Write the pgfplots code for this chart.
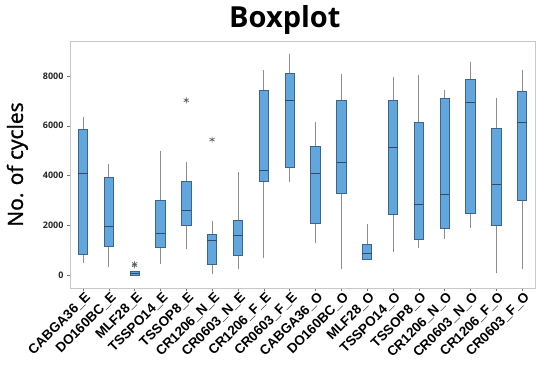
\documentclass[border=0pt]{standalone}
\usepackage{fontspec}
\setmainfont{Open Sans}
\newfontfamily\arialf{Liberation Sans}
\newfontfamily\ylf[FakeBold=1.2]{Open Sans}
\usepackage{pgfplots}
\pgfplotsset{compat=1.18}
\usetikzlibrary{calc}
\definecolor{boxblue}{RGB}{98,166,222}
\definecolor{boxedge}{RGB}{62,100,140}
\definecolor{medline}{RGB}{50,75,100}
\definecolor{whisk}{RGB}{140,140,140}
\definecolor{framec}{RGB}{200,200,200}
% #1 position, #2 left, #3 right, #4 lower whisker, #5 Q1, #6 median, #7 Q3, #8 upper whisker
\newcommand{\bx}[8]{%
  \addplot[whisk, line width=0.8pt] coordinates {(#1,#4) (#1,#8)};
  \addplot[fill=boxblue, draw=boxedge, line width=0.6pt] coordinates {(#2,#5) (#3,#5) (#3,#7) (#2,#7)} -- cycle;
  \addplot[medline, line width=0.9pt] coordinates {(#2,#6) (#3,#6)};
}
\begin{document}
\begin{tikzpicture}
\begin{axis}[
  name=ax,
  scale only axis,
  width=465pt, height=247pt,
  xmin=-0.5, xmax=17.5,
  ymin=-520, ymax=9400,
  axis line style={framec},
  tick align=outside,
  xtick pos=bottom, ytick pos=left,
  major tick length=3pt,
  tick style={black!55},
  xtick={0,...,17},
  xticklabels={CABGA36\_E,DO160BC\_E,MLF28\_E,TSSPO14\_E,TSSOP8\_E,CR1206\_N\_E,CR0603\_N\_E,CR1206\_F\_E,CR0603\_F\_E,CABGA36\_O,DO160BC\_O,MLF28\_O,TSSPO14\_O,TSSOP8\_O,CR1206\_N\_O,CR0603\_N\_O,CR1206\_F\_O,CR0603\_F\_O},
  xticklabel style={rotate=45, anchor=north east, font=\arialf\bfseries\fontsize{13.5}{15}\selectfont, inner sep=1pt, xshift=2pt},
  ytick={0,2000,4000,6000,8000},
  yticklabel style={font=\fontsize{9}{10}\selectfont\bfseries, black!85},
  /pgf/number format/1000 sep={},
  /pgf/number format/assume math mode=true,
  ylabel={No. of cycles},
  ylabel style={at={(axis description cs:-0.090,0.5)}, anchor=south, inner sep=0pt, font=\ylf\fontsize{21}{24}\selectfont},
  title={Boxplot},
  title style={at={(axis description cs:0.462,1)}, anchor=base, yshift=7pt, inner sep=0pt, font=\bfseries\fontsize{29}{34}\selectfont},
]
\bx{0}{-0.18}{0.18}{500}{840}{4090}{5870}{6330}
\bx{1}{0.82}{1.18}{310}{1150}{1970}{3920}{4480}
\bx{2}{1.82}{2.18}{0}{0}{80}{160}{160}
\bx{3}{2.82}{3.18}{450}{1100}{1670}{3000}{4980}
\bx{4}{3.82}{4.18}{1060}{1990}{2600}{3760}{4540}
\bx{5}{4.82}{5.18}{30}{440}{1400}{1650}{2170}
\bx{6}{5.82}{6.18}{230}{790}{1580}{2190}{4130}
\bx{7}{6.82}{7.18}{670}{3750}{4200}{7410}{8230}
\bx{8}{7.82}{8.18}{3720}{4330}{7000}{8090}{8860}
\bx{9}{8.82}{9.18}{1280}{2070}{4070}{5180}{6130}
\bx{10}{9.82}{10.18}{230}{3280}{4510}{7000}{8090}
\bx{11}{10.82}{11.18}{630}{630}{870}{1230}{2070}
\bx{12}{11.82}{12.18}{910}{2430}{5110}{7000}{7970}
\bx{13}{12.82}{13.18}{1070}{1420}{2820}{6150}{8050}
\bx{14}{13.82}{14.18}{1460}{1870}{3240}{7080}{7420}
\bx{15}{14.82}{15.18}{1900}{2500}{6930}{7880}{8560}
\bx{16}{15.82}{16.18}{70}{1990}{3630}{5900}{7130}
\bx{17}{16.82}{17.18}{230}{3000}{6140}{7380}{8230}
\addplot[only marks, mark=asterisk, mark size=3pt, mark options={draw=black!65, line width=0.6pt}] coordinates {(2,390) (2,450) (4,7020) (5,5440)};
\end{axis}
\useasboundingbox ($(ax.south west)+(-70pt,-87pt)$) rectangle ($(ax.north east)+(15pt,41pt)$);
\end{tikzpicture}
\end{document}
